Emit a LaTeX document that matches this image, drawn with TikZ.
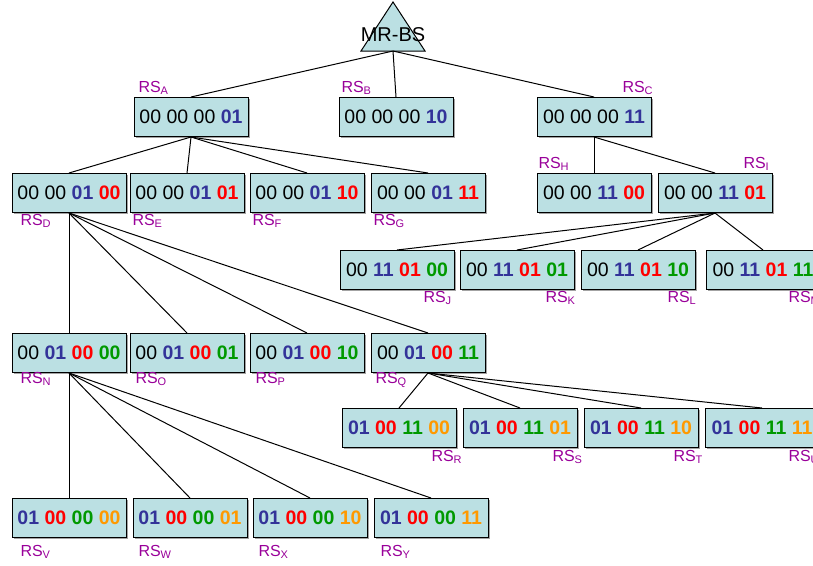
\documentclass[tikz,border=0pt]{standalone}
\usepackage{fontspec}
\setmainfont{Liberation Sans}
\usetikzlibrary{shadows}

\definecolor{boxfill}{HTML}{BBE0E3}
\definecolor{bitblue}{HTML}{333399}
\definecolor{bitred}{HTML}{FF0000}
\definecolor{bitgreen}{HTML}{009900}
\definecolor{bitorange}{HTML}{FF9900}
\definecolor{rspurple}{HTML}{990099}

\newcommand{\bitb}[1]{\textbf{\textcolor{bitblue}{#1}}}
\newcommand{\bitr}[1]{\textbf{\textcolor{bitred}{#1}}}
\newcommand{\bitg}[1]{\textbf{\textcolor{bitgreen}{#1}}}
\newcommand{\bito}[1]{\textbf{\textcolor{bitorange}{#1}}}
\newcommand{\rs}[1]{RS\textsubscript{\fontsize{11}{12}\selectfont #1}}

\begin{document}
\begin{tikzpicture}[x=1pt,y=-1pt,line width=1pt,
  addr/.style={draw,fill=boxfill,minimum width=114pt,minimum height=39pt,inner sep=0pt,
    font=\fontsize{19.5}{20}\selectfont,
    drop shadow={shadow xshift=1.5pt,shadow yshift=-1.5pt,fill=black!60,opacity=0.6}},
  rslabel/.style={anchor=base west,inner sep=0pt,text=rspurple,font=\fontsize{16}{17}\selectfont}]
\useasboundingbox (0,0) rectangle (813,565);

% base station
\draw[fill=boxfill] (393,2) -- (425,51) -- (361,51) -- cycle;
\node (mrbs) at (393,35) {\fontsize{20}{20}\selectfont MR-BS};
\coordinate (bs) at (393,51);

% first level
\node[addr] (A) at (191,117) {00 00 00 \bitb{01}};
\node[addr] (B) at (396,117) {00 00 00 \bitb{10}};
\node[addr] (C) at (594,117) {00 00 00 \bitb{11}};

% second level
\node[addr] (D) at (69,193) {00 00 \bitb{01} \bitr{00}};
\node[addr] (E) at (187,193) {00 00 \bitb{01} \bitr{01}};
\node[addr] (F) at (307,193) {00 00 \bitb{01} \bitr{10}};
\node[addr] (G) at (428,193) {00 00 \bitb{01} \bitr{11}};
\node[addr] (H) at (594,193) {00 00 \bitb{11} \bitr{00}};
\node[addr] (I) at (715,193) {00 00 \bitb{11} \bitr{01}};

% third level
\node[addr] (J) at (397,270) {00 \bitb{11} \bitr{01} \bitg{00}};
\node[addr] (K) at (517,270) {00 \bitb{11} \bitr{01} \bitg{01}};
\node[addr] (L) at (638,270) {00 \bitb{11} \bitr{01} \bitg{10}};
\node[addr] (M) at (763,270) {00 \bitb{11} \bitr{01} \bitg{11}};

\node[addr] (N) at (69,353) {00 \bitb{01} \bitr{00} \bitg{00}};
\node[addr] (O) at (187,353) {00 \bitb{01} \bitr{00} \bitg{01}};
\node[addr] (P) at (307,353) {00 \bitb{01} \bitr{00} \bitg{10}};
\node[addr] (Q) at (428,353) {00 \bitb{01} \bitr{00} \bitg{11}};

% fourth level
\node[addr] (R) at (399,428) {\bitb{01} \bitr{00} \bitg{11} \bito{00}};
\node[addr] (S) at (520,428) {\bitb{01} \bitr{00} \bitg{11} \bito{01}};
\node[addr] (T) at (641,428) {\bitb{01} \bitr{00} \bitg{11} \bito{10}};
\node[addr] (U) at (762,428) {\bitb{01} \bitr{00} \bitg{11} \bito{11}};

\node[addr] (V) at (69,518) {\bitb{01} \bitr{00} \bitg{00} \bito{00}};
\node[addr] (W) at (190,518) {\bitb{01} \bitr{00} \bitg{00} \bito{01}};
\node[addr] (X) at (310,518) {\bitb{01} \bitr{00} \bitg{00} \bito{10}};
\node[addr] (Y) at (431,518) {\bitb{01} \bitr{00} \bitg{00} \bito{11}};

% links
\foreach \c in {A,B,C} \draw (bs) -- (\c.north);
\foreach \c in {D,E,F,G} \draw (A.south) -- (\c.north);
\foreach \c in {H,I} \draw (C.south) -- (\c.north);
\foreach \c in {J,K,L,M} \draw (I.south) -- (\c.north);
\foreach \c in {N,O,P,Q} \draw (D.south) -- (\c.north);
\foreach \c in {R,S,T,U} \draw (Q.south) -- (\c.north);
\foreach \c in {V,W,X,Y} \draw (N.south) -- (\c.north);

% labels
\node[rslabel] (lA) at (138,92) {\rs{A}};
\node[rslabel] (lB) at (341,92) {\rs{B}};
\node[rslabel] (lC) at (622,92) {\rs{C}};
\node[rslabel] (lD) at (20,225) {\rs{D}};
\node[rslabel] (lE) at (132,225) {\rs{E}};
\node[rslabel] (lF) at (252,225) {\rs{F}};
\node[rslabel] (lG) at (373,225) {\rs{G}};
\node[rslabel] (lH) at (538,168) {\rs{H}};
\node[rslabel] (lI) at (743,168) {\rs{I}};
\node[rslabel] (lJ) at (423,302) {\rs{J}};
\node[rslabel] (lK) at (545,302) {\rs{K}};
\node[rslabel] (lL) at (667,302) {\rs{L}};
\node[rslabel] (lM) at (788,302) {\rs{M}};
\node[rslabel] (lN) at (20,383) {\rs{N}};
\node[rslabel] (lO) at (135,383) {\rs{O}};
\node[rslabel] (lP) at (255,383) {\rs{P}};
\node[rslabel] (lQ) at (375,383) {\rs{Q}};
\node[rslabel] (lR) at (431,461) {\rs{R}};
\node[rslabel] (lS) at (552,461) {\rs{S}};
\node[rslabel] (lT) at (673,461) {\rs{T}};
\node[rslabel] (lU) at (788,461) {\rs{U}};
\node[rslabel] (lV) at (20,556) {\rs{V}};
\node[rslabel] (lW) at (138,556) {\rs{W}};
\node[rslabel] (lX) at (258,556) {\rs{X}};
\node[rslabel] (lY) at (380,556) {\rs{Y}};

\end{tikzpicture}
\end{document}
